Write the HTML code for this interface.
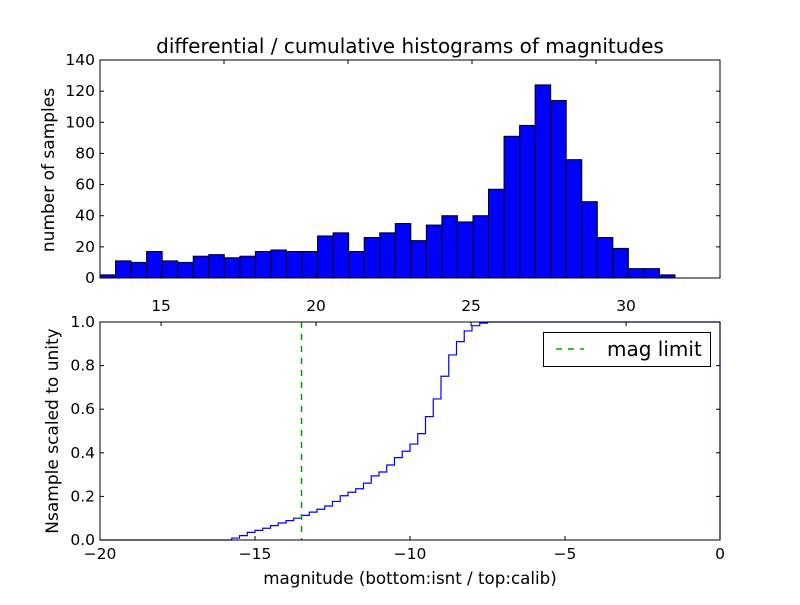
<!DOCTYPE html>
<html><head><meta charset="utf-8"><style>
body{margin:0;background:#fff;}
text{font-family:"DejaVu Sans","Liberation Sans",sans-serif;fill:#000;}
</style></head><body>
<svg id="c" width="800" height="600" xmlns="http://www.w3.org/2000/svg">
<rect width="800" height="600" fill="#fff"/>
</svg>
<script>
const counts=[2,11,10,17,11,10,14,15,13,14,17,18,17,17,27,29,17,26,29,35,24,34,40,36,40,57,91,98,124,114,76,49,26,19,6,6,2];
const binStart=13.03, binWidth=0.5013;
const topYTicks=[0,20,40,60,80,100,120,140];
const topXTicks=[15,20,25,30];
const cumStart=-15.75, cumStep=0.25;
const cumVals=[0.009,0.02,0.035,0.044,0.054,0.066,0.078,0.089,0.10,0.113,0.128,0.141,0.156,0.177,0.203,0.219,0.235,0.261,0.294,0.312,0.344,0.378,0.407,0.44,0.488,0.566,0.647,0.751,0.849,0.910,0.959,0.983,0.995,1.0];
const magLimit=-13.5;
const botXTicks=[-20,-15,-10,-5,0];
const botYTicks=[0,0.2,0.4,0.6,0.8,1.0];

const svg=document.getElementById('c');const NS='http://www.w3.org/2000/svg';
function mk(t,a,p){const e=document.createElementNS(NS,t);for(const k in a)e.setAttribute(k,a[k]);(p||svg).appendChild(e);return e;}
const tx=v=>100+(v-13.03)*31, ty=v=>278-v*218/140;
const g1=mk('g',{});


counts.forEach((c,i)=>{const x0=tx(binStart+i*binWidth),x1=tx(binStart+(i+1)*binWidth);
 const r=mk('rect',{x:x0,y:ty(c),width:x1-x0,height:ty(0)-ty(c),fill:'#0000ff',stroke:'#000','stroke-width':1},g1);
 
 });
mk('rect',{x:100,y:60,width:620,height:218,fill:'none',stroke:'#000','stroke-width':1});
topYTicks.forEach(v=>{const y=ty(v);mk('line',{x1:100,x2:104,y1:y,y2:y,stroke:'#000'});mk('line',{x1:716,x2:720,y1:y,y2:y,stroke:'#000'});
 const t=mk('text',{x:95,y:y+5,'text-anchor':'end','font-size':15.5});t.textContent=v;
 
 });
[224,348,472,596].forEach(x=>mk('line',{x1:x,x2:x,y1:60,y2:64,stroke:'#000'}));
topXTicks.forEach(v=>{const x=tx(v);mk('line',{x1:x,x2:x,y1:278,y2:274,stroke:'#000'});mk('line',{x1:x,x2:x,y1:322,y2:326,stroke:'#000'});
 const t=mk('text',{x:x,y:311,'text-anchor':'middle','font-size':15.5});t.textContent=v;
 
 });
let t=mk('text',{x:410,y:53,'text-anchor':'middle','font-size':20});t.textContent='differential / cumulative histograms of magnitudes';

t=mk('text',{x:0,y:0,'text-anchor':'middle','font-size':17,transform:'translate(54,170) rotate(-90)'});t.textContent='number of samples';

const bx=v=>100+(v+20)*31, by=v=>540-v*218;
let d='M'+bx(-20)+','+by(0)+' H'+bx(cumStart);
cumVals.forEach((v,i)=>{d+=' V'+by(v)+' H'+bx(cumStart+(i+1)*cumStep);});
d+=' H'+bx(0)+' V'+by(0);
const p=mk('path',{d:d,fill:'none',stroke:'#0000ff','stroke-width':1.2});

const ml=mk('line',{x1:bx(magLimit),x2:bx(magLimit),y1:322,y2:540,stroke:'#00a000','stroke-width':1.5,'stroke-dasharray':'6,6'});

mk('rect',{x:100,y:322,width:620,height:218,fill:'none',stroke:'#000','stroke-width':1});
botYTicks.forEach(v=>{const y=by(v);mk('line',{x1:100,x2:104,y1:y,y2:y,stroke:'#000'});mk('line',{x1:716,x2:720,y1:y,y2:y,stroke:'#000'});
 const t=mk('text',{x:95,y:y+5,'text-anchor':'end','font-size':15.5});t.textContent=v.toFixed(1);
 
 });
botXTicks.forEach(v=>{const x=bx(v);mk('line',{x1:x,x2:x,y1:540,y2:536,stroke:'#000'});
 const t=mk('text',{x:x,y:559,'text-anchor':'middle','font-size':15.5});t.textContent=v===0?'0':'\u2212'+Math.abs(v);
 
 });
t=mk('text',{x:410,y:584,'text-anchor':'middle','font-size':16.7});t.textContent='magnitude (bottom:isnt / top:calib)';

t=mk('text',{x:0,y:0,'text-anchor':'middle','font-size':17,transform:'translate(58,431) rotate(-90)'});t.textContent='Nsample scaled to unity';

const lg=mk('g',{});

mk('rect',{x:543.5,y:332.5,width:167,height:34,fill:'#fff',stroke:'#000'},lg);
mk('line',{x1:556,x2:584,y1:349,y2:349,stroke:'#00a000','stroke-width':1.5,'stroke-dasharray':'6,6'},lg);
t=mk('text',{x:607,y:356,'font-size':20},lg);t.textContent='mag limit';

</script>
</body></html>
